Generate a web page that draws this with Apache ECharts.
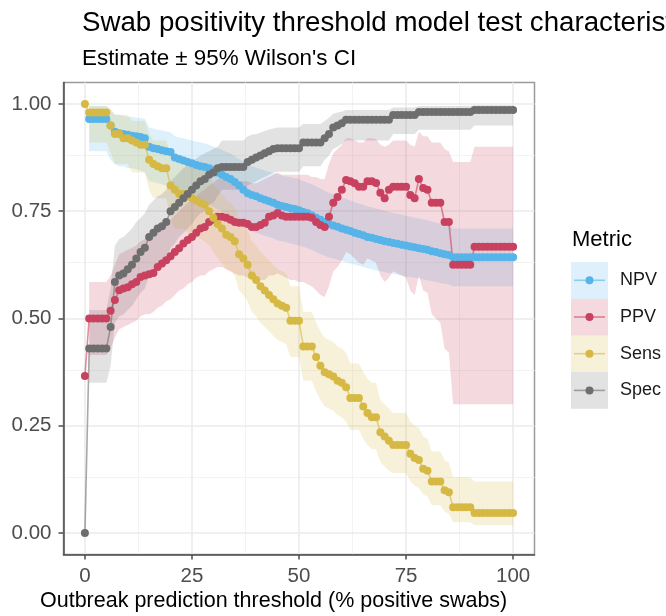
<!DOCTYPE html>
<html>
<head>
<meta charset="utf-8">
<script src="https://cdn.jsdelivr.net/npm/echarts@6/dist/echarts.min.js"></script>
<style>
  html, body { margin: 0; padding: 0; background: #fff; }
  #chart { width: 666px; height: 616px; }
</style>
</head>
<body>
<div id="chart"></div>
<script>
// outbreak prediction threshold, % positive swabs (0..100 in 1% steps)
const thresholds = [...Array(101).keys()];
const metrics = ['NPV', 'PPV', 'Sens', 'Spec'];
const xTicks = [0, 25, 50, 75, 100];
const yTicks = [0, 0.25, 0.5, 0.75, 1];

const npv = [null, 0.965, 0.965, 0.965, 0.965, 0.965, 0.95, 0.935, 0.932, 0.93,
  0.928, 0.926, 0.925, 0.923, 0.92, 0.9, 0.897, 0.895, 0.892, 0.89,
  0.888, 0.875, 0.872, 0.868, 0.865, 0.862, 0.858, 0.855, 0.853, 0.85,
  0.846, 0.84, 0.835, 0.83, 0.825, 0.818, 0.81, 0.8, 0.792, 0.788,
  0.785, 0.78, 0.777, 0.773, 0.77, 0.765, 0.762, 0.76, 0.757, 0.755,
  0.752, 0.748, 0.745, 0.74, 0.735, 0.73, 0.725, 0.72, 0.717, 0.714,
  0.71, 0.707, 0.704, 0.7, 0.697, 0.694, 0.69, 0.688, 0.685, 0.683,
  0.68, 0.678, 0.676, 0.674, 0.672, 0.67, 0.668, 0.666, 0.664, 0.662,
  0.66, 0.657, 0.655, 0.652, 0.65, 0.648, 0.643, 0.643, 0.643, 0.643,
  0.643, 0.643, 0.643, 0.643, 0.643, 0.643, 0.643, 0.643, 0.643, 0.643, 0.643];
const npvLo = [null, 0.89, 0.89, 0.89, 0.89, 0.89, 0.87, 0.86, 0.855, 0.855,
  0.85, 0.85, 0.848, 0.845, 0.84, 0.82, 0.818, 0.815, 0.812, 0.81,
  0.808, 0.795, 0.79, 0.786, 0.782, 0.778, 0.774, 0.77, 0.768, 0.765,
  0.76, 0.755, 0.75, 0.745, 0.74, 0.733, 0.725, 0.715, 0.708, 0.704,
  0.7, 0.696, 0.693, 0.69, 0.687, 0.682, 0.68, 0.678, 0.675, 0.673,
  0.67, 0.667, 0.664, 0.66, 0.655, 0.65, 0.646, 0.642, 0.64, 0.637,
  0.634, 0.631, 0.628, 0.625, 0.623, 0.62, 0.617, 0.615, 0.612, 0.61,
  0.608, 0.606, 0.604, 0.602, 0.6, 0.598, 0.597, 0.595, 0.593, 0.591,
  0.589, 0.587, 0.585, 0.583, 0.581, 0.579, 0.575, 0.575, 0.575, 0.575,
  0.575, 0.575, 0.575, 0.575, 0.575, 0.575, 0.575, 0.575, 0.575, 0.575, 0.575];
const npvHi = [null, 0.995, 0.995, 0.995, 0.995, 0.995, 0.985, 0.975, 0.975, 0.972,
  0.97, 0.97, 0.968, 0.967, 0.965, 0.945, 0.943, 0.94, 0.938, 0.936,
  0.934, 0.925, 0.922, 0.92, 0.918, 0.915, 0.912, 0.91, 0.908, 0.905,
  0.9, 0.897, 0.893, 0.888, 0.885, 0.878, 0.872, 0.865, 0.858, 0.855,
  0.852, 0.848, 0.845, 0.842, 0.84, 0.836, 0.833, 0.831, 0.829, 0.827,
  0.825, 0.82, 0.817, 0.813, 0.808, 0.803, 0.798, 0.793, 0.79, 0.786,
  0.782, 0.778, 0.775, 0.771, 0.768, 0.765, 0.761, 0.759, 0.756, 0.754,
  0.751, 0.749, 0.746, 0.744, 0.742, 0.739, 0.737, 0.735, 0.733, 0.731,
  0.729, 0.726, 0.724, 0.721, 0.719, 0.717, 0.71, 0.71, 0.71, 0.71,
  0.71, 0.71, 0.71, 0.71, 0.71, 0.71, 0.71, 0.71, 0.71, 0.71, 0.71];

const ppv = [0.366, 0.5, 0.5, 0.5, 0.5, 0.5, 0.518, 0.543, 0.566, 0.57,
  0.573, 0.58, 0.585, 0.597, 0.6, 0.603, 0.606, 0.62, 0.628, 0.636,
  0.645, 0.655, 0.664, 0.675, 0.683, 0.69, 0.7, 0.71, 0.713, 0.725,
  0.73, 0.737, 0.737, 0.735, 0.73, 0.725, 0.723, 0.723, 0.72, 0.713,
  0.713, 0.718, 0.723, 0.737, 0.74, 0.746, 0.74, 0.737, 0.737, 0.737,
  0.737, 0.737, 0.737, 0.735, 0.725, 0.718, 0.713, 0.737, 0.77, 0.783,
  0.8, 0.823, 0.82, 0.815, 0.807, 0.807, 0.82, 0.82, 0.816, 0.793,
  0.78, 0.8, 0.807, 0.807, 0.807, 0.807, 0.788, 0.78, 0.825, 0.804,
  0.8, 0.77, 0.77, 0.77, 0.725, 0.725, 0.625, 0.625, 0.625, 0.625,
  0.625, 0.667, 0.667, 0.667, 0.667, 0.667, 0.667, 0.667, 0.667, 0.667, 0.667];
const ppvLo = [null, 0.415, 0.415, 0.415, 0.415, 0.415, 0.43, 0.455, 0.475, 0.48,
  0.485, 0.49, 0.495, 0.505, 0.51, 0.51, 0.515, 0.525, 0.53, 0.54,
  0.545, 0.555, 0.565, 0.57, 0.58, 0.585, 0.595, 0.6, 0.6, 0.61,
  0.615, 0.62, 0.62, 0.615, 0.61, 0.605, 0.6, 0.6, 0.595, 0.59,
  0.585, 0.59, 0.59, 0.6, 0.6, 0.605, 0.6, 0.595, 0.59, 0.59,
  0.585, 0.585, 0.58, 0.575, 0.565, 0.555, 0.55, 0.575, 0.61, 0.62,
  0.635, 0.655, 0.65, 0.64, 0.63, 0.625, 0.64, 0.635, 0.63, 0.6,
  0.585, 0.595, 0.61, 0.605, 0.6, 0.595, 0.565, 0.555, 0.6, 0.565,
  0.56, 0.51, 0.5, 0.49, 0.43, 0.42, 0.3, 0.3, 0.3, 0.3,
  0.3, 0.3, 0.3, 0.3, 0.3, 0.3, 0.3, 0.3, 0.3, 0.3, 0.3];
const ppvHi = [null, 0.585, 0.585, 0.585, 0.585, 0.585, 0.6, 0.625, 0.65, 0.655,
  0.66, 0.665, 0.67, 0.68, 0.685, 0.69, 0.69, 0.705, 0.71, 0.72,
  0.73, 0.74, 0.75, 0.76, 0.77, 0.775, 0.785, 0.795, 0.8, 0.81,
  0.815, 0.825, 0.825, 0.825, 0.82, 0.82, 0.82, 0.82, 0.82, 0.815,
  0.815, 0.82, 0.825, 0.83, 0.835, 0.84, 0.835, 0.835, 0.835, 0.835,
  0.835, 0.835, 0.835, 0.83, 0.83, 0.825, 0.825, 0.86, 0.885, 0.895,
  0.905, 0.92, 0.92, 0.915, 0.91, 0.91, 0.92, 0.92, 0.918, 0.905,
  0.9, 0.905, 0.915, 0.915, 0.915, 0.915, 0.905, 0.9, 0.935, 0.925,
  0.925, 0.91, 0.91, 0.91, 0.895, 0.89, 0.865, 0.865, 0.865, 0.865,
  0.865, 0.9, 0.9, 0.9, 0.9, 0.9, 0.9, 0.9, 0.9, 0.9, 0.9];

const sens = [1.0, 0.98, 0.98, 0.98, 0.98, 0.98, 0.95, 0.93, 0.93, 0.92,
  0.92, 0.915, 0.91, 0.905, 0.905, 0.87, 0.86, 0.855, 0.85, 0.85,
  0.81, 0.8, 0.79, 0.79, 0.785, 0.78, 0.775, 0.77, 0.765, 0.75,
  0.735, 0.72, 0.71, 0.695, 0.69, 0.68, 0.65, 0.64, 0.625, 0.6,
  0.59, 0.575, 0.565, 0.555, 0.545, 0.535, 0.53, 0.525, 0.495, 0.495,
  0.495, 0.435, 0.435, 0.435, 0.41, 0.39, 0.375, 0.37, 0.365, 0.355,
  0.35, 0.34, 0.315, 0.315, 0.315, 0.295, 0.28, 0.27, 0.27, 0.235,
  0.225, 0.215, 0.205, 0.205, 0.205, 0.205, 0.185, 0.175, 0.17, 0.15,
  0.145, 0.12, 0.12, 0.12, 0.1, 0.095, 0.06, 0.06, 0.06, 0.06,
  0.06, 0.047, 0.047, 0.047, 0.047, 0.047, 0.047, 0.047, 0.047, 0.047, 0.047];
const sensLo = [null, 0.91, 0.91, 0.91, 0.91, 0.91, 0.885, 0.86, 0.86, 0.86,
  0.86, 0.84, 0.84, 0.84, 0.84, 0.8, 0.78, 0.78, 0.78, 0.78,
  0.73, 0.71, 0.71, 0.71, 0.7, 0.695, 0.69, 0.685, 0.68, 0.67,
  0.655, 0.64, 0.63, 0.615, 0.61, 0.6, 0.565, 0.555, 0.54, 0.515,
  0.505, 0.49, 0.48, 0.47, 0.46, 0.45, 0.445, 0.44, 0.41, 0.41,
  0.41, 0.355, 0.355, 0.355, 0.33, 0.31, 0.295, 0.29, 0.285, 0.275,
  0.27, 0.26, 0.24, 0.24, 0.24, 0.22, 0.205, 0.195, 0.195, 0.165,
  0.155, 0.145, 0.14, 0.14, 0.14, 0.14, 0.12, 0.11, 0.105, 0.09,
  0.085, 0.065, 0.065, 0.065, 0.05, 0.045, 0.025, 0.025, 0.025, 0.025,
  0.025, 0.018, 0.018, 0.018, 0.018, 0.018, 0.018, 0.018, 0.018, 0.018, 0.018];
const sensHi = [null, 0.995, 0.995, 0.995, 0.995, 0.995, 0.99, 0.975, 0.975, 0.975,
  0.975, 0.96, 0.96, 0.96, 0.96, 0.93, 0.915, 0.915, 0.915, 0.915,
  0.88, 0.865, 0.865, 0.865, 0.86, 0.855, 0.85, 0.848, 0.845, 0.83,
  0.815, 0.8, 0.79, 0.775, 0.77, 0.76, 0.73, 0.72, 0.705, 0.68,
  0.67, 0.655, 0.645, 0.635, 0.625, 0.615, 0.61, 0.605, 0.575, 0.575,
  0.575, 0.515, 0.515, 0.515, 0.49, 0.47, 0.455, 0.45, 0.445, 0.435,
  0.43, 0.42, 0.395, 0.395, 0.395, 0.375, 0.36, 0.35, 0.35, 0.31,
  0.3, 0.29, 0.28, 0.28, 0.28, 0.28, 0.26, 0.25, 0.245, 0.225,
  0.22, 0.19, 0.19, 0.19, 0.17, 0.165, 0.13, 0.13, 0.13, 0.13,
  0.13, 0.12, 0.12, 0.12, 0.12, 0.12, 0.12, 0.12, 0.12, 0.12, 0.12];

const spec = [0, 0.43, 0.43, 0.43, 0.43, 0.43, 0.48, 0.585, 0.6, 0.605,
  0.615, 0.625, 0.64, 0.655, 0.665, 0.69, 0.7, 0.71, 0.715, 0.725,
  0.75, 0.76, 0.77, 0.78, 0.79, 0.8, 0.81, 0.82, 0.825, 0.835,
  0.84, 0.85, 0.853, 0.853, 0.853, 0.853, 0.853, 0.853, 0.865, 0.87,
  0.875, 0.88, 0.885, 0.89, 0.895, 0.897, 0.897, 0.897, 0.897, 0.897,
  0.897, 0.91, 0.91, 0.91, 0.91, 0.91, 0.92, 0.93, 0.945, 0.95,
  0.955, 0.963, 0.963, 0.963, 0.963, 0.963, 0.963, 0.963, 0.963, 0.963,
  0.963, 0.963, 0.974, 0.974, 0.974, 0.974, 0.974, 0.974, 0.981, 0.981,
  0.981, 0.981, 0.981, 0.981, 0.981, 0.981, 0.981, 0.981, 0.981, 0.981,
  0.981, 0.986, 0.986, 0.986, 0.986, 0.986, 0.986, 0.986, 0.986, 0.986, 0.986];
const specLo = [null, 0.35, 0.35, 0.35, 0.35, 0.35, 0.39, 0.49, 0.505, 0.51,
  0.52, 0.53, 0.545, 0.56, 0.57, 0.6, 0.61, 0.62, 0.625, 0.635,
  0.665, 0.675, 0.69, 0.7, 0.71, 0.72, 0.735, 0.745, 0.75, 0.765,
  0.77, 0.785, 0.8, 0.8, 0.8, 0.8, 0.8, 0.8, 0.81, 0.815,
  0.82, 0.825, 0.83, 0.835, 0.84, 0.842, 0.842, 0.842, 0.842, 0.842,
  0.842, 0.855, 0.855, 0.855, 0.855, 0.855, 0.87, 0.88, 0.895, 0.9,
  0.907, 0.915, 0.915, 0.915, 0.915, 0.915, 0.915, 0.915, 0.915, 0.915,
  0.915, 0.915, 0.93, 0.93, 0.93, 0.93, 0.93, 0.93, 0.94, 0.94,
  0.94, 0.94, 0.94, 0.94, 0.94, 0.94, 0.94, 0.94, 0.94, 0.94,
  0.94, 0.95, 0.95, 0.95, 0.95, 0.95, 0.95, 0.95, 0.95, 0.95, 0.95];
const specHi = [null, 0.52, 0.52, 0.52, 0.52, 0.52, 0.57, 0.67, 0.685, 0.69,
  0.7, 0.71, 0.725, 0.735, 0.745, 0.765, 0.775, 0.785, 0.79, 0.8,
  0.82, 0.83, 0.84, 0.85, 0.857, 0.865, 0.873, 0.88, 0.885, 0.89,
  0.895, 0.9, 0.915, 0.915, 0.915, 0.915, 0.915, 0.915, 0.925, 0.928,
  0.93, 0.933, 0.937, 0.94, 0.943, 0.945, 0.945, 0.945, 0.945, 0.945,
  0.945, 0.953, 0.953, 0.953, 0.953, 0.953, 0.96, 0.968, 0.977, 0.98,
  0.982, 0.986, 0.986, 0.986, 0.986, 0.986, 0.986, 0.986, 0.986, 0.986,
  0.986, 0.986, 0.992, 0.992, 0.992, 0.992, 0.992, 0.992, 0.995, 0.995,
  0.995, 0.995, 0.995, 0.995, 0.995, 0.995, 0.995, 0.995, 0.995, 0.995,
  0.995, 0.997, 0.997, 0.997, 0.997, 0.997, 0.997, 0.997, 0.997, 0.997, 0.997];

const colors = { NPV: '#56B4E9', PPV: '#C8415F', Sens: '#D6B944', Spec: '#6E6E6E' };
const values = { NPV: [npv, npvLo, npvHi], PPV: [ppv, ppvLo, ppvHi], Sens: [sens, sensLo, sensHi], Spec: [spec, specLo, specHi] };
const FONT = '"Liberation Sans", Arial, sans-serif';

function fade(hex, a) {
  const n = parseInt(hex.slice(1), 16);
  return 'rgba(' + (n >> 16) + ',' + ((n >> 8) & 255) + ',' + (n & 255) + ',' + a + ')';
}

// CI ribbon drawn as one polygon through the axis scales
function ribbon(name) {
  const [v, lo, hi] = values[name];
  const pts = thresholds.map((x, i) => [x, lo[i], hi[i]]).filter(d => d[1] != null);
  return {
    type: 'custom', name: name + ' CI', silent: true, z: 1,
    data: pts,
    encode: { x: 0, y: [1, 2] },
    renderItem: (params, api) => {
      if (params.dataIndex !== 0) return null;
      const top = pts.map(d => api.coord([d[0], d[2]]));
      const bot = pts.map(d => api.coord([d[0], d[1]])).reverse();
      return { type: 'polygon', shape: { points: top.concat(bot) }, style: { fill: fade(colors[name], 0.2) } };
    }
  };
}

function pairs(name) {
  const v = values[name][0];
  return thresholds.map((x, i) => [x, v[i]]).filter(d => d[1] != null);
}

const gridLine = (axis, val, major) => ({
  [axis]: val,
  lineStyle: { color: major ? '#ebebeb' : '#f3f3f3', width: major ? 1.6 : 1, type: 'solid' }
});

const series = [{
  type: 'line', data: [], silent: true, z: 0,
  markLine: {
    z: 0, silent: true, symbol: 'none', label: { show: false }, animation: false,
    data: [12.5, 37.5, 62.5, 87.5].map(v => gridLine('xAxis', v, false))
      .concat([0.125, 0.375, 0.625, 0.875].map(v => gridLine('yAxis', v, false)))
      .concat(xTicks.map(v => gridLine('xAxis', v, true)))
      .concat(yTicks.map(v => gridLine('yAxis', v, true)))
  }
}];
metrics.forEach(m => series.push(ribbon(m)));
metrics.forEach(m => series.push({
  type: 'line', name: m, data: pairs(m), showSymbol: false, z: 2, silent: true,
  lineStyle: { color: colors[m], width: 1.6, opacity: 0.6 }
}));
metrics.forEach(m => series.push({
  type: 'scatter', name: m, data: pairs(m), symbolSize: 8, z: 3, silent: true,
  itemStyle: { color: colors[m], opacity: 1 }
}));

// legend built by hand: ribbon-filled keys with a line and a point
const legend = [{
  type: 'text', x: 572, y: 240,
  style: { text: 'Metric', font: '22px ' + FONT, fill: '#000', verticalAlign: 'middle' }
}];
metrics.forEach((m, i) => {
  const y0 = 262 + i * 36.7, cy = y0 + 18.3;
  legend.push(
    { type: 'rect', shape: { x: 571, y: y0, width: 37, height: 36.7 }, style: { fill: fade(colors[m], 0.2) } },
    { type: 'line', shape: { x1: 574, y1: cy, x2: 605, y2: cy }, style: { stroke: colors[m], lineWidth: 1.6, opacity: 0.6 } },
    { type: 'circle', shape: { cx: 589.5, cy: cy, r: 4 }, style: { fill: colors[m] } },
    { type: 'text', x: 620, y: cy, style: { text: m, font: '18px ' + FONT, fill: '#1a1a1a', verticalAlign: 'middle' } }
  );
});

const chart = echarts.init(document.getElementById('chart'));
chart.setOption({
  animation: false,
  backgroundColor: '#fff',
  grid: { left: 63.5, top: 82.5, width: 471, height: 472, show: true, borderColor: '#9a9a9a', borderWidth: 1.5, backgroundColor: 'transparent' },
  xAxis: {
    type: 'value', min: -5, max: 105,
    axisLine: { show: true, onZero: false, lineStyle: { color: '#4d4d4d', width: 1.5 } },
    axisTick: { show: true, length: 5, customValues: xTicks, lineStyle: { color: '#4d4d4d', width: 1.5 } },
    axisLabel: { customValues: xTicks, margin: 11, color: '#4d4d4d', fontSize: 20.5, fontFamily: FONT },
    splitLine: { show: false }
  },
  yAxis: {
    type: 'value', min: -0.05, max: 1.05,
    axisLine: { show: true, onZero: false, lineStyle: { color: '#4d4d4d', width: 1.5 } },
    axisTick: { show: true, length: 5, customValues: yTicks, lineStyle: { color: '#4d4d4d', width: 1.5 } },
    axisLabel: { customValues: yTicks, margin: 12, color: '#4d4d4d', fontSize: 20.5, fontFamily: FONT, formatter: v => v.toFixed(2) },
    splitLine: { show: false }
  },
  series: series,
  graphic: [
    { type: 'text', x: 82, y: 23, style: { text: 'Swab positivity threshold model test characteristics', font: '27.7px ' + FONT, fill: '#000', verticalAlign: 'middle' } },
    { type: 'text', x: 82, y: 59, style: { text: 'Estimate \u00b1 95% Wilson\'s CI', font: '22.4px ' + FONT, fill: '#000', verticalAlign: 'middle' } },
    { type: 'text', x: 40, y: 601, style: { text: 'Outbreak prediction threshold (% positive swabs)', font: '21.5px ' + FONT, fill: '#000', verticalAlign: 'middle' } }
  ].concat(legend)
});
</script>
</body>
</html>
